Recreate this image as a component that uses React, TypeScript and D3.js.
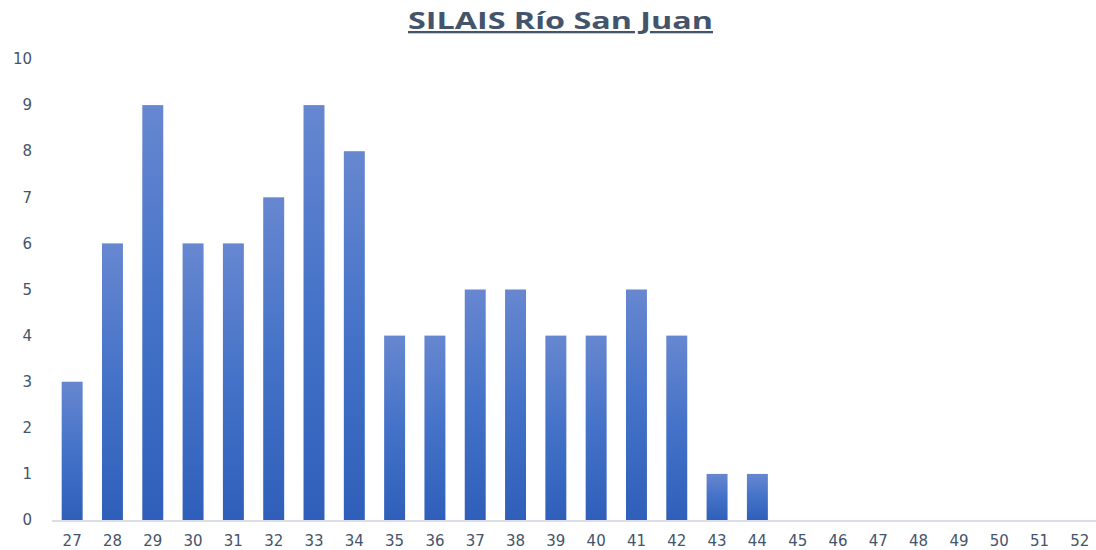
import React, { useEffect, useRef } from 'react';
import * as d3 from 'd3';

const weeks = ['27', '28', '29', '30', '31', '32', '33', '34', '35', '36', '37', '38', '39', '40', '41', '42', '43', '44', '45', '46', '47', '48', '49', '50', '51', '52'];
const cases = [3, 6, 9, 6, 6, 7, 9, 8, 4, 4, 5, 5, 4, 4, 5, 4, 1, 1, 0, 0, 0, 0, 0, 0, 0, 0];
const yTicks = [0, 1, 2, 3, 4, 5, 6, 7, 8, 9, 10];

const App = () => {
  const ref = useRef<SVGSVGElement>(null);

  useEffect(() => {
    const svg = d3.select(ref.current);
    svg.selectAll('*').remove();

    const width = 1096, height = 550;
    const left = 52, right = 1100, top = 59, bottom = 520;
    const font = '"DejaVu Sans", "Open Sans", sans-serif';

    const x = d3.scaleBand().domain(weeks).range([left, right]).paddingInner(0.48).paddingOuter(0.24);
    const y = d3.scaleLinear().domain([0, 10]).range([bottom, top]);

    const grad = svg.append('defs').append('linearGradient')
      .attr('id', 'barGrad')
      .attr('x1', 0).attr('y1', 0).attr('x2', 0).attr('y2', 1);
    grad.append('stop').attr('offset', '0%').attr('stop-color', '#6787d0');
    grad.append('stop').attr('offset', '50%').attr('stop-color', '#4472c8');
    grad.append('stop').attr('offset', '100%').attr('stop-color', '#2f5fba');

    svg.append('rect').attr('width', width).attr('height', height).attr('fill', '#ffffff');

    // title, stretched wide like the source
    svg.append('text')
      .attr('x', 408).attr('y', 29)
      .attr('font-family', '"Open Sans", sans-serif')
      .attr('font-weight', 'bold')
      .attr('font-size', 23)
      .attr('fill', '#44546a')
      .attr('text-decoration', 'underline')
      .attr('textLength', 305)
      .attr('lengthAdjust', 'spacingAndGlyphs')
      .text('SILAIS Río San Juan');

    svg.selectAll('rect.bar')
      .data(cases)
      .join('rect')
        .attr('class', 'bar')
        .attr('x', (d, i) => x(weeks[i]))
        .attr('y', d => y(d))
        .attr('width', x.bandwidth())
        .attr('height', d => bottom - y(d))
        .attr('fill', 'url(#barGrad)');

    // axis line
    svg.append('line')
      .attr('x1', left).attr('x2', width)
      .attr('y1', bottom + 1).attr('y2', bottom + 1)
      .attr('stroke', '#d9dde6').attr('stroke-width', 2);

    svg.selectAll('text.ytick')
      .data(yTicks)
      .join('text')
        .attr('class', 'ytick')
        .attr('x', 32)
        .attr('y', d => y(d))
        .attr('dy', '0.35em')
        .attr('text-anchor', 'end')
        .attr('font-family', font)
        .attr('font-size', 15)
        .attr('fill', '#44546a')
        .text(d => d);

    svg.selectAll('text.xtick')
      .data(weeks)
      .join('text')
        .attr('class', 'xtick')
        .attr('x', d => x(d) + x.bandwidth() / 2)
        .attr('y', 546)
        .attr('text-anchor', 'middle')
        .attr('font-family', font)
        .attr('font-size', 15)
        .attr('fill', '#44546a')
        .text(d => d);
  }, []);

  return (
    <svg ref={ref} width={1096} height={550} style={{ position: 'absolute', left: 0, top: 0 }}></svg>
  );
};

export default App;
